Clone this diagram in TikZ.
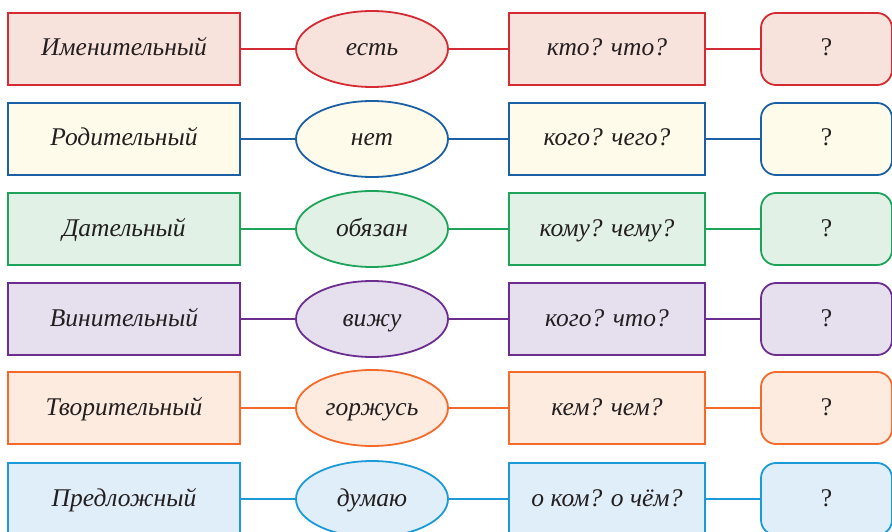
\documentclass[tikz,border=0pt]{standalone}
\usepackage{fontspec}
\setmainfont{Liberation Serif}
\usetikzlibrary{shapes.geometric}

\definecolor{redLine}{HTML}{D42A33}
\definecolor{redFill}{HTML}{F8E3DC}
\definecolor{blueLine}{HTML}{1B5FA5}
\definecolor{blueFill}{HTML}{FEFBEA}
\definecolor{greenLine}{HTML}{1DA45A}
\definecolor{greenFill}{HTML}{E1F1E6}
\definecolor{purpleLine}{HTML}{6B2E8F}
\definecolor{purpleFill}{HTML}{E6DFEE}
\definecolor{orangeLine}{HTML}{F36A2A}
\definecolor{orangeFill}{HTML}{FDEBE0}
\definecolor{skyLine}{HTML}{1B9AD7}
\definecolor{skyFill}{HTML}{E0EEF9}
\definecolor{textGray}{HTML}{231F20}

\tikzset{
	baseText/.style={line width=1.8pt, inner sep=0pt, text=textGray, text height=18pt, text depth=4pt, font=\fontsize{25.5}{30}\selectfont},
	caseBox/.style={baseText, rectangle, minimum width=232pt, minimum height=72pt, font=\fontsize{25.5}{30}\selectfont\itshape},
	verbEllipse/.style={baseText, ellipse, minimum width=152pt, minimum height=76pt, font=\fontsize{25.5}{30}\selectfont\itshape},
	questionBox/.style={baseText, rectangle, minimum width=196pt, minimum height=72pt, font=\fontsize{25.5}{30}\selectfont\itshape},
	answerBox/.style={baseText, rectangle, rounded corners=15pt, minimum width=131pt, minimum height=72pt},
	link/.style={line width=1.8pt}
}

\begin{document}
\begin{tikzpicture}[x=1pt, y=-1pt]
	\useasboundingbox (0,0) rectangle (892,532);
	\clip (0,0) rectangle (892,532);

	% draw row 1 boxes
	\node[caseBox, draw=redLine, fill=redFill](nomCase) at (124,49){Именительный};
	\node[verbEllipse, draw=redLine, fill=redFill](nomVerb) at (372,49){есть};
	\node[questionBox, draw=redLine, fill=redFill](nomQuest) at (607,49){кто? что?};
	\node[answerBox, draw=redLine, fill=redFill](nomAns) at (826.5,49){?};
	\draw[link, redLine] (nomCase.east) -- (nomVerb.west);
	\draw[link, redLine] (nomVerb.east) -- (nomQuest.west);
	\draw[link, redLine] (nomQuest.east) -- (nomAns.west);

	% draw row 2 boxes
	\node[caseBox, draw=blueLine, fill=blueFill](genCase) at (124,139){Родительный};
	\node[verbEllipse, draw=blueLine, fill=blueFill](genVerb) at (372,139){нет};
	\node[questionBox, draw=blueLine, fill=blueFill](genQuest) at (607,139){кого? чего?};
	\node[answerBox, draw=blueLine, fill=blueFill](genAns) at (826.5,139){?};
	\draw[link, blueLine] (genCase.east) -- (genVerb.west);
	\draw[link, blueLine] (genVerb.east) -- (genQuest.west);
	\draw[link, blueLine] (genQuest.east) -- (genAns.west);

	% draw row 3 boxes
	\node[caseBox, draw=greenLine, fill=greenFill](datCase) at (124,229){Дательный};
	\node[verbEllipse, draw=greenLine, fill=greenFill](datVerb) at (372,229){обязан};
	\node[questionBox, draw=greenLine, fill=greenFill](datQuest) at (607,229){кому? чему?};
	\node[answerBox, draw=greenLine, fill=greenFill](datAns) at (826.5,229){?};
	\draw[link, greenLine] (datCase.east) -- (datVerb.west);
	\draw[link, greenLine] (datVerb.east) -- (datQuest.west);
	\draw[link, greenLine] (datQuest.east) -- (datAns.west);

	% draw row 4 boxes
	\node[caseBox, draw=purpleLine, fill=purpleFill](accCase) at (124,319){Винительный};
	\node[verbEllipse, draw=purpleLine, fill=purpleFill](accVerb) at (372,319){вижу};
	\node[questionBox, draw=purpleLine, fill=purpleFill](accQuest) at (607,319){кого? что?};
	\node[answerBox, draw=purpleLine, fill=purpleFill](accAns) at (826.5,319){?};
	\draw[link, purpleLine] (accCase.east) -- (accVerb.west);
	\draw[link, purpleLine] (accVerb.east) -- (accQuest.west);
	\draw[link, purpleLine] (accQuest.east) -- (accAns.west);

	% draw row 5 boxes
	\node[caseBox, draw=orangeLine, fill=orangeFill](insCase) at (124,408){Творительный};
	\node[verbEllipse, draw=orangeLine, fill=orangeFill](insVerb) at (372,408){горжусь};
	\node[questionBox, draw=orangeLine, fill=orangeFill](insQuest) at (607,408){кем? чем?};
	\node[answerBox, draw=orangeLine, fill=orangeFill](insAns) at (826.5,408){?};
	\draw[link, orangeLine] (insCase.east) -- (insVerb.west);
	\draw[link, orangeLine] (insVerb.east) -- (insQuest.west);
	\draw[link, orangeLine] (insQuest.east) -- (insAns.west);

	% draw row 6 boxes
	\node[caseBox, draw=skyLine, fill=skyFill](preCase) at (124,499){Предложный};
	\node[verbEllipse, draw=skyLine, fill=skyFill](preVerb) at (372,499){думаю};
	\node[questionBox, draw=skyLine, fill=skyFill](preQuest) at (607,499){о ком? о чём?};
	\node[answerBox, draw=skyLine, fill=skyFill](preAns) at (826.5,499){?};
	\draw[link, skyLine] (preCase.east) -- (preVerb.west);
	\draw[link, skyLine] (preVerb.east) -- (preQuest.west);
	\draw[link, skyLine] (preQuest.east) -- (preAns.west);
\end{tikzpicture}
\end{document}
